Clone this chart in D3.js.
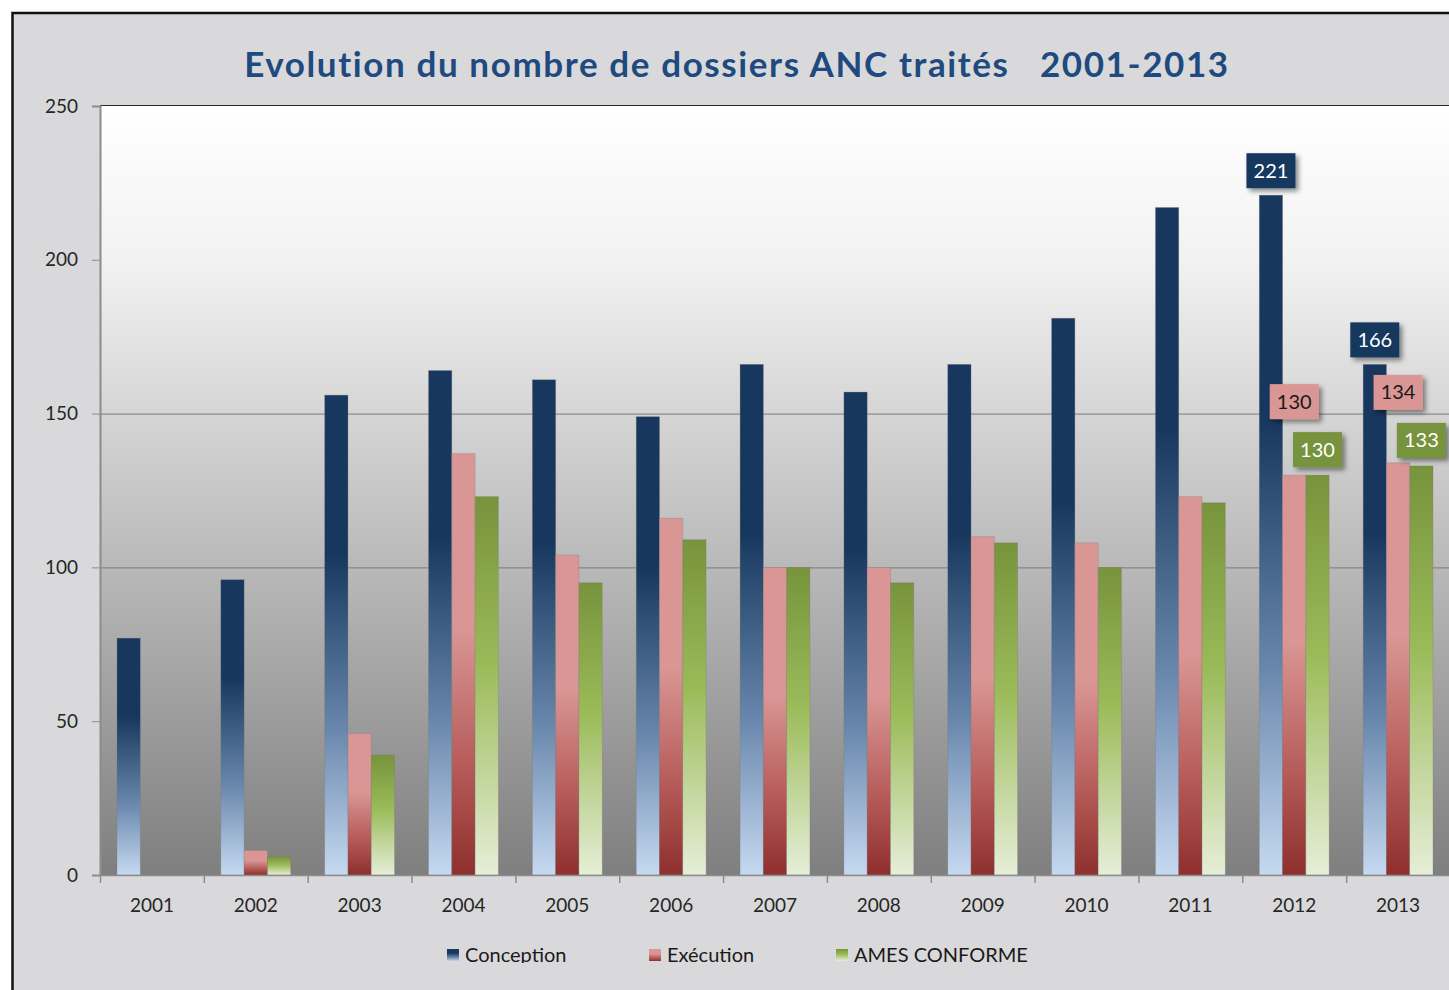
<!DOCTYPE html>
<html>
<head>
<meta charset="utf-8">
<script src="https://cdn.jsdelivr.net/npm/d3@7"></script>
<style>
  body { margin: 0; background: #fff; }
  svg { display: block; }
  text { font-family: Lato, "Open Sans", sans-serif; }
</style>
</head>
<body>
<svg id="chart"></svg>
<script>
const years = ['2001', '2002', '2003', '2004', '2005', '2006', '2007', '2008', '2009', '2010', '2011', '2012', '2013'];
const conception = [77, 96, 156, 164, 161, 149, 166, 157, 166, 181, 217, 221, 166];
const execution = [0, 8, 46, 137, 104, 116, 100, 100, 110, 108, 123, 130, 134];
const ames = [0, 6, 39, 123, 95, 109, 100, 95, 108, 100, 121, 130, 133];
const seriesNames = ['Conception', 'Exécution', 'AMES CONFORME'];
const yTicks = [0, 50, 100, 150, 200, 250];
const gridValues = [100, 150];
const labelledYears = ['2012', '2013'];
const title = 'Evolution du nombre de dossiers ANC traités\u00a0\u00a0\u00a02001-2013';

const config = {
  width: 1449,
  height: 990,
  margin: { top: 106, right: -1, bottom: 115, left: 100 }
};

const seriesStyle = [
  { id: 'gConc', stops: [[0, '#17375e'], [0.33, '#17375e'], [0.7, '#6a88ad'], [1, '#c6d9f1']], label: '#17375e', text: '#fff' },
  { id: 'gExec', stops: [[0, '#d99694'], [0.42, '#d99694'], [0.75, '#b55a58'], [1, '#8e2f2d']], label: '#d99694', text: '#1a1a1a' },
  { id: 'gAmes', stops: [[0, '#77933c'], [0.45, '#9bbb59'], [1, '#e6eed8']], label: '#77933c', text: '#fff' }
];

const svg = d3.select('#chart')
  .attr('width', config.width)
  .attr('height', config.height);

const w = config.width - config.margin.left - config.margin.right;
const h = config.height - config.margin.top - config.margin.bottom;

const defs = svg.append('defs');

seriesStyle.forEach(s => {
  const g = defs.append('linearGradient')
    .attr('id', s.id)
    .attr('x1', 0).attr('y1', 0).attr('x2', 0).attr('y2', 1);
  s.stops.forEach(st => g.append('stop').attr('offset', st[0]).attr('stop-color', st[1]));
});

const bg = defs.append('linearGradient')
  .attr('id', 'plotBg')
  .attr('x1', 0).attr('y1', 0).attr('x2', 0).attr('y2', 1);
bg.append('stop').attr('offset', 0).attr('stop-color', '#ffffff');
bg.append('stop').attr('offset', 0.2).attr('stop-color', '#f2f2f2');
bg.append('stop').attr('offset', 1).attr('stop-color', '#7f7f7f');

const shadow = defs.append('filter')
  .attr('id', 'shadow')
  .attr('x', '-30%').attr('y', '-30%').attr('width', '170%').attr('height', '170%');
shadow.append('feDropShadow')
  .attr('dx', 3).attr('dy', 3).attr('stdDeviation', 2.5)
  .attr('flood-color', '#000').attr('flood-opacity', 0.45);

defs.append('clipPath').attr('id', 'legendClip')
  .append('rect').attr('x', 0).attr('y', 0).attr('width', config.width).attr('height', 963);

// outer chart frame
svg.append('rect')
  .attr('x', 12.5).attr('y', 13)
  .attr('width', config.width + 20).attr('height', config.height + 20)
  .attr('fill', '#d9d9db')
  .attr('stroke', '#111')
  .attr('stroke-width', 2.5);

svg.append('text')
  .attr('x', 737)
  .attr('y', 77)
  .attr('text-anchor', 'middle')
  .style('font-size', '35px')
  .style('font-weight', 'bold')
  .style('letter-spacing', '1.6px')
  .style('fill', '#1f4a80')
  .text(title);

const chart = svg.append('g')
  .attr('transform', `translate(${config.margin.left},${config.margin.top})`);

const xScale = d3.scaleBand()
  .domain(years)
  .range([0, w]);

const xInner = d3.scaleBand()
  .domain(seriesNames)
  .range([0, xScale.bandwidth()])
  .paddingOuter(0.73);

const yScale = d3.scaleLinear()
  .domain([0, 250])
  .range([h, 0]);

chart.append('rect')
  .attr('width', w)
  .attr('height', h)
  .attr('fill', 'url(#plotBg)');

chart.append('line')
  .attr('x1', 0).attr('x2', w)
  .attr('y1', -0.5).attr('y2', -0.5)
  .attr('stroke', '#2a2a2a');

chart.append('g')
  .selectAll('line')
  .data(gridValues)
  .join('line')
    .attr('x1', 0).attr('x2', w)
    .attr('y1', d => yScale(d) + 0.5)
    .attr('y2', d => yScale(d) + 0.5)
    .attr('stroke', '#7a7a7a');

const series = [conception, execution, ames];

const groups = chart.append('g')
  .selectAll('g')
  .data(years)
  .join('g')
    .attr('transform', d => `translate(${xScale(d)},0)`);

groups.selectAll('rect')
  .data((d, i) => series.map((s, k) => ({ name: seriesNames[k], value: s[i], style: seriesStyle[k] })))
  .join('rect')
    .attr('x', d => xInner(d.name))
    .attr('y', d => yScale(d.value))
    .attr('width', xInner.bandwidth())
    .attr('height', d => h - yScale(d.value))
    .attr('fill', d => `url(#${d.style.id})`)
    .attr('stroke', 'rgba(120,120,120,0.35)')
    .attr('stroke-width', 0.8);

// y axis
const yAxisG = chart.append('g')
  .call(d3.axisLeft(yScale).tickValues(yTicks).tickSize(8).tickPadding(14).tickFormat(d3.format('d')));
yAxisG.select('.domain').attr('stroke', '#8c8c8c').attr('stroke-width', 2);
yAxisG.selectAll('.tick line').attr('stroke', '#8c8c8c');
yAxisG.selectAll('text')
  .style('font-size', '19px')
  .style('fill', '#262626');

// x axis, ticks sit between categories
const xAxisG = chart.append('g')
  .attr('transform', `translate(0,${h})`)
  .call(d3.axisBottom(xScale).tickSize(0).tickPadding(24));
xAxisG.select('.domain').attr('stroke', '#8c8c8c').attr('stroke-width', 1.5);
xAxisG.selectAll('text')
  .style('font-size', '19px')
  .style('fill', '#262626');
xAxisG.append('g')
  .selectAll('line')
  .data(years)
  .join('line')
    .attr('x1', d => xScale(d) + 0.5)
    .attr('x2', d => xScale(d) + 0.5)
    .attr('y1', 0).attr('y2', 8)
    .attr('stroke', '#8c8c8c')
    .attr('stroke-width', 1.5);

// data labels for the last two years
const boxW = 49, boxH = 35;
labelledYears.forEach(year => {
  const i = years.indexOf(year);
  const cx = k => xScale(year) + xInner(seriesNames[k]) + xInner.bandwidth() / 2;
  const amesBottom = yScale(ames[i]) - 8;
  const amesLeft = cx(2) - boxW / 2;
  let execBottom = yScale(execution[i]) - 8;
  if (cx(1) + boxW / 2 > amesLeft && execBottom > amesBottom - boxH - 10) {
    execBottom = amesBottom - boxH - 13;
  }
  const bottoms = [yScale(conception[i]) - 7, execBottom, amesBottom];

  series.forEach((s, k) => {
    const lg = chart.append('g')
      .attr('transform', `translate(${cx(k) - boxW / 2},${bottoms[k] - boxH})`);
    lg.append('rect')
      .attr('width', boxW)
      .attr('height', boxH)
      .attr('fill', seriesStyle[k].label)
      .attr('filter', 'url(#shadow)');
    lg.append('text')
      .attr('x', boxW / 2)
      .attr('y', boxH / 2 + 7)
      .attr('text-anchor', 'middle')
      .style('font-size', '20px')
      .style('fill', seriesStyle[k].text)
      .text(s[i]);
  });
});

// legend
const legendX = [447, 649, 836];
const legend = svg.append('g')
  .attr('clip-path', 'url(#legendClip)')
  .selectAll('g')
  .data(seriesNames)
  .join('g')
    .attr('transform', (d, i) => `translate(${legendX[i]},949)`);

legend.append('rect')
  .attr('width', 12)
  .attr('height', 12)
  .attr('fill', (d, i) => `url(#${seriesStyle[i].id})`);

legend.append('text')
  .attr('x', 18)
  .attr('y', 13)
  .style('font-size', '20px')
  .style('fill', '#1a1a1a')
  .text(d => d);
</script>
</body>
</html>
